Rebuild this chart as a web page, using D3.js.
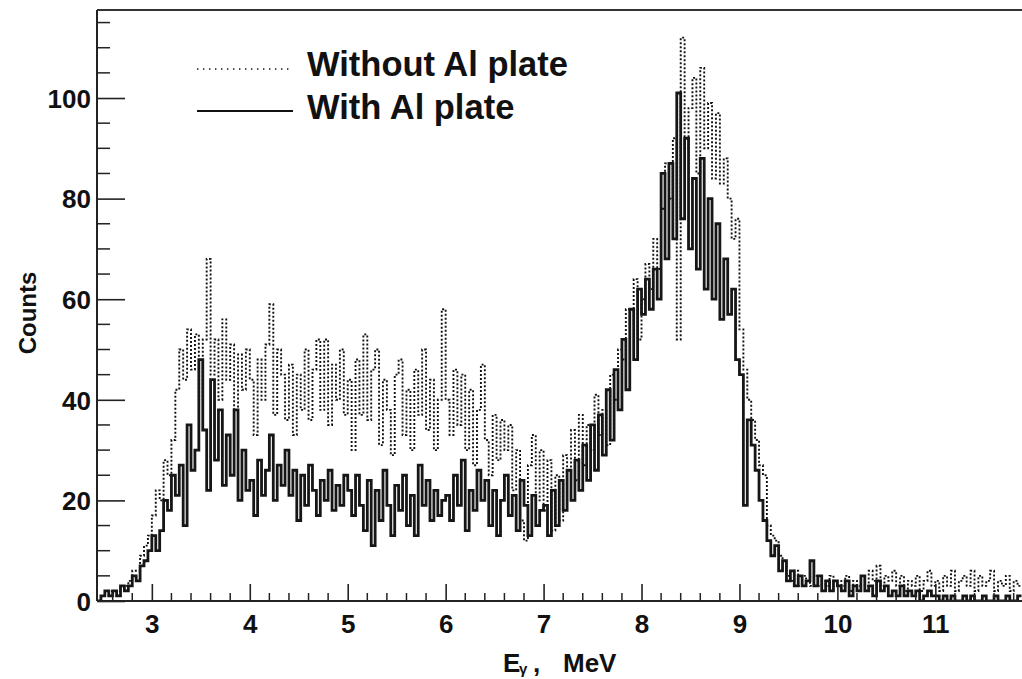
<!DOCTYPE html>
<html>
<head>
<meta charset="utf-8">
<script src="https://cdn.jsdelivr.net/npm/d3@7"></script>
<style>
  html, body { margin: 0; padding: 0; background: #fff; }
  svg { display: block; }
  text { font-family: "Liberation Sans", Arial, Helvetica, sans-serif; font-weight: bold; fill: #111; }
</style>
</head>
<body>
<svg id="chart" width="1022" height="679"></svg>
<script>
// ---- data (counts per 0.04 MeV bin, first bin starts at 2.44 MeV) ----
const binStart = 2.44;
const binWidth = 0.04;

// "Without Al plate" (dotted)
const withoutAl = [
  // 2.44 - 2.96
  0,1,1,2,2,2,3,3,4,6,6,9,11,13,
  // 3.00 - 3.96
  17,22,20,28,25,32,42,50,44,54,46,53,40,52,68,45,52,40,56,44,51,38,49,42,50,
  // 4.00 - 4.96
  44,33,48,40,51,59,37,50,45,36,47,33,45,38,50,36,46,52,38,52,35,47,40,50,37,
  // 5.00 - 5.96
  44,30,48,37,53,36,46,50,31,44,38,29,45,48,33,42,30,46,37,50,34,44,30,40,58,
  // 6.00 - 6.96
  40,33,46,35,45,30,42,27,38,47,32,25,37,28,36,30,35,22,30,16,12,27,33,20,30,
  // 7.00 - 7.96
  18,28,14,25,16,29,22,34,24,37,27,35,30,41,33,38,31,45,40,50,48,58,55,64,52,
  // 8.00 - 8.96
  60,67,62,72,66,78,87,80,92,52,112,90,98,104,85,106,90,99,84,97,83,88,80,72,76,
  // 9.00 - 9.96
  54,46,40,36,32,27,25,15,13,12,9,8,5,4,6,3,5,4,3,5,3,4,3,5,4,
  // 10.00 - 10.96
  4,3,5,2,4,3,5,3,6,4,7,3,5,4,6,3,5,2,4,3,5,2,4,6,3,
  // 11.00 - 11.84
  4,2,5,3,6,2,4,5,3,6,2,5,3,4,6,2,4,3,5,2,4,3
];

// "With Al plate" (solid)
const withAl = [
  // 2.44 - 2.96
  0,1,2,1,2,1,3,2,3,5,4,7,8,10,
  // 3.00 - 3.96
  13,10,14,20,18,25,21,27,15,35,26,30,48,34,22,44,28,38,23,33,25,38,20,30,22,
  // 4.00 - 4.96
  24,17,28,21,26,33,20,27,23,30,21,26,16,25,19,27,22,17,24,20,26,18,23,19,25,
  // 5.00 - 5.96
  22,17,25,19,14,24,11,22,16,26,19,13,23,18,25,15,21,13,27,19,24,16,22,17,20,
  // 6.00 - 6.96
  21,16,25,19,28,14,22,18,26,20,24,15,22,13,20,25,17,21,14,24,19,13,21,15,18,
  // 7.00 - 7.96
  19,13,22,15,24,18,26,20,28,22,31,24,35,26,37,29,42,32,46,38,52,42,58,48,62,
  // 8.00 - 8.96
  57,64,58,66,60,85,68,87,72,101,76,92,70,84,66,88,62,80,60,75,56,68,57,62,48,
  // 9.00 - 9.96
  45,19,36,31,26,20,16,12,9,11,6,8,4,6,3,5,3,4,8,3,5,2,4,2,4,
  // 10.00 - 10.96
  3,2,4,1,3,2,5,2,3,1,4,2,3,1,2,1,3,1,2,1,2,0,1,2,1,
  // 11.00 - 11.84
  1,0,1,0,1,0,0,1,0,1,0,0,1,0,0,1,0,0,1,0,0,1
];

const xTickValues = [3, 4, 5, 6, 7, 8, 9, 10, 11];
const yTickValues = [0, 20, 40, 60, 80, 100];
const legendLabels = ["Without Al plate", "With Al plate"];
const xTitle = ["E", "\u03b3", ",", "MeV"];
const yTitle = "Counts";

(function () {
// ---- layout ----
const svg = d3.select("#chart");
const pL = 97, pR = 1022, pT = 10, pB = 601;

const x = d3.scaleLinear().domain([2.44, 11.885]).range([pL, pR]);
const y = d3.scaleLinear().domain([0, 117.5]).range([pB, pT]);

svg.append("defs").append("clipPath").attr("id", "plotclip")
  .append("rect").attr("x", pL).attr("y", pT).attr("width", pR - pL).attr("height", pB - pT);

// histogram step paths
function stepPoints(vals) {
  const pts = vals.map((v, i) => [binStart + i * binWidth, v]);
  pts.push([binStart + vals.length * binWidth, vals[vals.length - 1]]);
  return pts;
}
const line = d3.line().x(d => x(d[0])).y(d => y(d[1])).curve(d3.curveStepAfter);

const plot = svg.append("g").attr("clip-path", "url(#plotclip)");
plot.append("path")
  .attr("d", line(stepPoints(withoutAl)))
  .attr("fill", "none").attr("stroke", "#111")
  .attr("stroke-width", 1.9).attr("stroke-dasharray", "2,2");
plot.append("path")
  .attr("d", line(stepPoints(withAl)))
  .attr("fill", "none").attr("stroke", "#161616")
  .attr("stroke-width", 2.8).attr("stroke-linejoin", "miter");

// frame
svg.append("line").attr("x1", pL).attr("x2", pR).attr("y1", pT).attr("y2", pT)
  .attr("stroke", "#333").attr("stroke-width", 2);

// x axis: ticks point up (inside)
const xAxis = d3.axisBottom(x).tickValues(xTickValues).tickSize(-17).tickPadding(0).tickFormat(d3.format("d"));
const gx = svg.append("g").attr("transform", `translate(0,${pB})`).call(xAxis);
gx.select(".domain").attr("stroke", "#222").attr("stroke-width", 2).attr("d", `M${pL},0H${pR}`);
gx.selectAll(".tick line").attr("stroke", "#222").attr("stroke-width", 1.6);
gx.selectAll(".tick text").attr("font-size", 26).attr("y", 32).attr("dy", 0).attr("fill", "#111")
  .style("font-family", '"Liberation Sans", Arial, sans-serif').style("font-weight", "bold");
const xMinor = d3.range(2.6, 11.9, 0.2).filter(v => Math.abs(v - Math.round(v)) > 0.01);
svg.append("g").selectAll("line").data(xMinor).join("line")
  .attr("x1", d => x(d)).attr("x2", d => x(d)).attr("y1", pB).attr("y2", pB - 8)
  .attr("stroke", "#222").attr("stroke-width", 1.5);

// y axis: ticks point right (inside)
const yAxis = d3.axisLeft(y).tickValues(yTickValues).tickSize(-28).tickPadding(0).tickFormat(d3.format("d"));
const gy = svg.append("g").attr("transform", `translate(${pL},0)`).call(yAxis);
gy.select(".domain").attr("stroke", "#222").attr("stroke-width", 2).attr("d", `M0,${pB}V${pT}`);
gy.selectAll(".tick line").attr("stroke", "#222").attr("stroke-width", 1.6);
gy.selectAll(".tick text").attr("font-size", 26).attr("x", -6).attr("dy", "0.36em").attr("fill", "#111")
  .style("font-family", '"Liberation Sans", Arial, sans-serif').style("font-weight", "bold");
const yMinor = d3.range(5, 117, 5).filter(v => v % 20 !== 0);
svg.append("g").selectAll("line").data(yMinor).join("line")
  .attr("x1", pL).attr("x2", pL + 13).attr("y1", d => y(d)).attr("y2", d => y(d))
  .attr("stroke", "#222").attr("stroke-width", 1.5);

// axis titles
const xt = svg.append("g");
xt.append("text").attr("x", 503).attr("y", 672).attr("font-size", 26).text(xTitle[0]);
xt.append("text").attr("x", 519).attr("y", 674).attr("font-size", 15).text(xTitle[1]);
xt.append("text").attr("x", 533).attr("y", 672).attr("font-size", 26).text(xTitle[2]);
xt.append("text").attr("x", 563).attr("y", 672).attr("font-size", 26).text(xTitle[3]);

svg.append("text").attr("transform", "translate(36,313) rotate(-90)")
  .attr("text-anchor", "middle").attr("font-size", 24).text(yTitle);

// legend
const lg = svg.append("g");
lg.append("line").attr("x1", 197).attr("x2", 290).attr("y1", 69).attr("y2", 69)
  .attr("stroke", "#111").attr("stroke-width", 1.6).attr("stroke-dasharray", "1.4,4.6");
lg.append("line").attr("x1", 197).attr("x2", 293).attr("y1", 111).attr("y2", 111)
  .attr("stroke", "#111").attr("stroke-width", 2);
lg.append("text").attr("x", 307).attr("y", 76).attr("font-size", 34.5).text(legendLabels[0]);
lg.append("text").attr("x", 307).attr("y", 119).attr("font-size", 34.5).text(legendLabels[1]);
})();
</script>
</body>
</html>
